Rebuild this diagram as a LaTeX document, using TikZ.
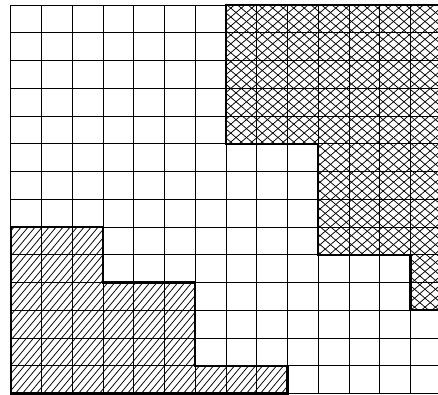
\documentclass[tikz,border=0pt]{standalone}
\begin{document}
\begin{tikzpicture}[x=1pt,y=-1pt,
  gridline/.style={line width=0.9pt,black},
  thickborder/.style={line width=2.2pt,black,line join=miter},
  hatchline/.style={line width=0.75pt,black}]
\useasboundingbox (0,0) rectangle (438,395);
% crosshatched region (top right)
\begin{scope}
  \clip (225.95,5) -- (445,5) -- (445,310.25) -- (410.45,310.25) -- (410.45,254.75)
        -- (318.2,254.75) -- (318.2,143.75) -- (225.95,143.75) -- cycle;
  \foreach \a in {-100,-89.5,...,800} {
    \draw[hatchline] (\a-300,200-255) -- (\a+300,200+255);
    \draw[hatchline] (\a-300,200+255) -- (\a+300,200-255);
  }
\end{scope}
% single hatched region (bottom left)
\begin{scope}
  \clip (10.7,227) -- (102.95,227) -- (102.95,282.5) -- (195.2,282.5) -- (195.2,365.75)
        -- (287.45,365.75) -- (287.45,393.5) -- (10.7,393.5) -- cycle;
  \foreach \a in {-200,-193,...,300} {
    \draw[hatchline] (\a,400) -- ++(200,-240);
  }
\end{scope}
% grid
\foreach \i in {0,...,13} {
  \draw[gridline] ({10.7+30.75*\i},5) -- ({10.7+30.75*\i},393.5);
}
\foreach \j in {0,...,14} {
  \draw[gridline] (10.7,{5+27.75*\j}) -- (445,{5+27.75*\j});
}
% thick borders
\draw[thickborder] (445,310.25) -- (410.45,310.25) -- (410.45,254.75)
        -- (318.2,254.75) -- (318.2,143.75) -- (225.95,143.75) -- (225.95,5) -- (445,5);
\draw[thickborder] (10.7,227) -- (102.95,227) -- (102.95,282.5) -- (195.2,282.5) -- (195.2,365.75)
        -- (287.45,365.75) -- (287.45,393.5) -- (10.7,393.5) -- cycle;
\end{tikzpicture}
\end{document}
